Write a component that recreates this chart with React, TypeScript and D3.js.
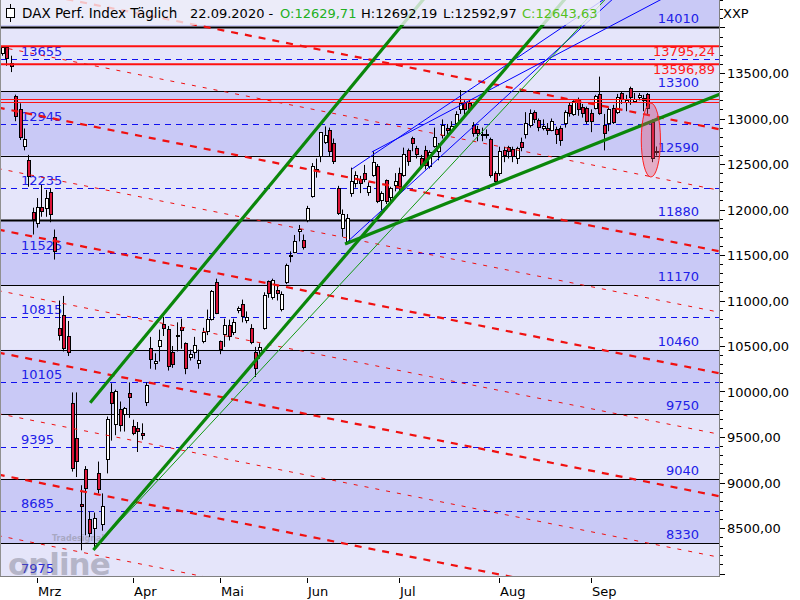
import React from "react";
import * as d3 from "d3";

// ---------- DATA ----------
const dates = [
  "2020-02-19","2020-02-20","2020-02-21","2020-02-24","2020-02-25","2020-02-26","2020-02-27","2020-02-28",
  "2020-03-02","2020-03-03","2020-03-04","2020-03-05","2020-03-06","2020-03-09","2020-03-10","2020-03-11","2020-03-12","2020-03-13",
  "2020-03-16","2020-03-17","2020-03-18","2020-03-19","2020-03-20","2020-03-23","2020-03-24","2020-03-25","2020-03-26","2020-03-27","2020-03-30","2020-03-31",
  "2020-04-01","2020-04-02","2020-04-03","2020-04-06","2020-04-07","2020-04-08","2020-04-09","2020-04-14","2020-04-15","2020-04-16","2020-04-17",
  "2020-04-20","2020-04-21","2020-04-22","2020-04-23","2020-04-24","2020-04-27","2020-04-28","2020-04-29","2020-04-30",
  "2020-05-04","2020-05-05","2020-05-06","2020-05-07","2020-05-08","2020-05-11","2020-05-12","2020-05-13","2020-05-14","2020-05-15",
  "2020-05-18","2020-05-19","2020-05-20","2020-05-21","2020-05-22","2020-05-25","2020-05-26","2020-05-27","2020-05-28","2020-05-29",
  "2020-06-02","2020-06-03","2020-06-04","2020-06-05","2020-06-08","2020-06-09","2020-06-10","2020-06-11","2020-06-12",
  "2020-06-15","2020-06-16","2020-06-17","2020-06-18","2020-06-19","2020-06-22","2020-06-23","2020-06-24","2020-06-25","2020-06-26","2020-06-29","2020-06-30",
  "2020-07-01","2020-07-02","2020-07-03","2020-07-06","2020-07-07","2020-07-08","2020-07-09","2020-07-10","2020-07-13","2020-07-14","2020-07-15","2020-07-16","2020-07-17",
  "2020-07-20","2020-07-21","2020-07-22","2020-07-23","2020-07-24","2020-07-27","2020-07-28","2020-07-29","2020-07-30","2020-07-31",
  "2020-08-03","2020-08-04","2020-08-05","2020-08-06","2020-08-07","2020-08-10","2020-08-11","2020-08-12","2020-08-13","2020-08-14",
  "2020-08-17","2020-08-18","2020-08-19","2020-08-20","2020-08-21","2020-08-24","2020-08-25","2020-08-26","2020-08-27","2020-08-28","2020-08-31",
  "2020-09-01","2020-09-02","2020-09-03","2020-09-04","2020-09-07","2020-09-08","2020-09-09","2020-09-10","2020-09-11",
  "2020-09-14","2020-09-15","2020-09-16","2020-09-17","2020-09-18","2020-09-21","2020-09-22"
];
const opens = [
  13720,13785,13610,13250,13100,12700,12545,11970,
  11860,12030,12020,12190,11700,10700,10840,10610,9870,9490,
  8760,9150,8600,8500,9100,8540,9260,9990,9640,9810,9745,9980,
  9620,9600,9545,9885,10480,10315,10500,10740,10690,10430,10620,
  10710,10530,10380,10440,10320,10555,10665,10800,11200,
  10555,10632,10730,10645,10896,10960,10790,10700,10434,10456,
  10690,11210,11040,11115,10910,11200,11490,11535,11755,11665,
  11885,12150,12445,12580,12740,12875,12730,12240,11800,
  11650,12180,12290,12330,12400,12195,12380,12480,12100,12320,12130,12270,
  12400,12380,12650,12786,12680,12570,12650,12480,12700,12640,12820,12900,12880,
  12950,13100,13180,13170,12930,12880,12820,12830,12780,12400,
  12400,12650,12690,12670,12560,12740,12820,12930,13070,12980,
  12900,12900,12880,12880,12900,12950,13150,13050,13200,13126,13110,
  13060,13115,13270,12930,12950,13120,13070,13280,13180,
  13340,13200,13230,13230,13270,12960,12629.71
];
const highs = [
  13795,13790,13690,13262,13167,12890,12600,12020,
  12126,12270,12215,12235,11780,11000,11050,10775,9990,9990,
  8970,9180,8680,8670,9230,8880,9725,10090,10020,9890,9830,10100,
  9690,9665,9650,10100,10600,10420,10680,10820,10720,10500,10760,
  10800,10540,10460,10600,10460,10700,10900,11115,11240,
  10560,10800,10790,10800,10935,11010,10880,10740,10490,10530,
  11090,11220,11240,11170,11100,11405,11540,11720,11830,11725,
  12040,12510,12560,12850,12913,12900,12780,12260,12000,
  11950,12460,12420,12370,12490,12300,12640,12500,12200,12330,12250,12400,
  12460,12680,12670,12800,12700,12600,12700,12650,12900,12730,12990,12940,12970,
  13080,13313,13200,13200,12960,12920,12900,12880,12790,12420,
  12690,12690,12700,12690,12690,12790,13070,13100,13090,13000,
  12990,12950,13000,12910,12920,13090,13180,13200,13230,13160,13130,
  13100,13260,13460,13050,13120,13150,13270,13300,13260,
  13350,13280,13280,13260,13280,12990,12692.19
];
const lows = [
  13690,13580,13510,12970,12764,12650,12250,11725,
  11800,11920,11920,11860,11450,10560,10440,10390,9120,9060,
  8255,8420,8400,8280,8880,8470,9100,9460,9520,9560,9560,9710,
  9520,9335,9470,9840,10250,10240,10330,10610,10230,10260,10440,
  10470,10190,10340,10360,10250,10530,10620,10780,10850,
  10410,10490,10560,10620,10860,10760,10750,10520,10160,10360,
  10680,11030,11010,11000,10880,11180,11420,11520,11650,11560,
  11860,12130,12350,12520,12720,12580,12500,11940,11700,
  11620,12140,12240,12180,12300,12150,12360,12070,11990,12060,12060,12200,
  12200,12360,12480,12640,12560,12450,12440,12450,12680,12540,12780,12810,12860,
  12900,13050,13030,13060,12800,12750,12750,12780,12350,12280,
  12370,12520,12560,12520,12500,12640,12780,12900,12950,12860,
  12870,12820,12860,12720,12700,12900,13020,13030,13030,13010,12940,
  12850,13100,13040,12650,12860,12940,13050,13160,13080,
  13150,13170,13200,13080,13050,12520,12592.97
];
const closes = [
  13789,13664,13579,13035,12790,12774,12367,11890,
  12031,11985,12127,11944,11541,10625,10475,10439,9161,9232,
  8742,8939,8441,8610,8929,8742,9701,9874,10000,9633,9816,9936,
  9544,9571,9525,10075,10356,10332,10565,10697,10280,10301,10626,
  10676,10250,10416,10514,10350,10659,10796,11107,10862,
  10467,10730,10606,10760,10918,10830,10820,10544,10258,10489,
  11058,11082,11223,11080,11074,11392,11504,11657,11781,11587,
  12021,12480,12431,12848,12820,12642,12530,11970,11949,
  11911,12315,12382,12281,12331,12263,12523,12093,12177,12089,12232,12311,
  12260,12608,12528,12734,12616,12494,12489,12633,12800,12697,12931,12874,12920,
  13046,13171,13104,13103,12838,12839,12835,12822,12380,12313,
  12647,12600,12650,12591,12674,12687,12946,13058,12993,12901,
  12920,12882,12977,12830,12765,13067,13066,13190,13096,13060,12962,
  12974,13243,13057,12843,13100,12968,13237,13209,13202,
  13236,13218,13255,13208,13116,12560,12643.63
];

const bandLevels = [14010, 13300, 12590, 11880, 11170, 10460, 9750, 9040, 8330];
const bandLabels = ["14010", "13300", "12590", "11880", "11170", "10460", "9750", "9040", "8330"];
const midLevels = [13655, 12945, 12235, 11525, 10815, 10105, 9395, 8685, 7975];
const midLabels = ["13655", "12945", "12235", "11525", "10815", "10105", "9395", "8685", "7975"];
const resistanceLevels = [13795.24, 13596.89];
const resistanceLabels = ["13795,24", "13596,89"];
const thinRedLevels = [13215, 13180];
const yTickValues = [8500, 9000, 9500, 10000, 10500, 11000, 11500, 12000, 12500, 13000, 13500];
const yTickLabels = ["8500,00", "9000,00", "9500,00", "10000,00", "10500,00", "11000,00", "11500,00", "12000,00", "12500,00", "13000,00", "13500,00"];
const monthNames = ["Jan", "Feb", "Mrz", "Apr", "Mai", "Jun", "Jul", "Aug", "Sep", "Okt", "Nov", "Dez"];

// red descending channel lines: price at bar index -1 and at bar index 166
const redThickStart = [14462, 13121, 11780, 10429, 9088, 7747];
const redThickEnd = [12868, 11527, 10186, 8835, 7494, 6153];
const redThinStart = [13791, 12451, 11110, 9758, 8417];
const redThinEnd = [12197, 10857, 9516, 8164, 6823];

// trend lines: [barIndex1, price1, barIndex2, price2]
const greenThickLines = [
  [20.2, 9877, 96.5, 14302],
  [20.94, 8258, 128.9, 14302],
  [78.65, 11621, 164.65, 13269],
];
const greenThinLines = [[21.3, 8280, 138.2, 14302]];
const blueLines = [
  [80.25, 12445, 137.8, 14302],
  [84.8, 12632, 150.9, 14302],
  [78.65, 11621, 134.8, 14082],
];
// highlight ellipse: [leftIndex, rightIndex, topPrice, bottomPrice]
const ellipseBox = [146.6, 151.0, 13170, 12357];

// ---------- LAYOUT ----------
const W = 800, H = 600;
const plotRight = 719;
const plotBottom = 576;
const FONT = "'DejaVu Sans', Verdana, sans-serif";

export default function App() {
  const x = d3.scaleLinear().domain([0, 150]).range([2.1, 656.1]);
  const y = d3.scaleLinear().domain([8500, 13500]).range([528, 73]);

  const bandFillDark = "#c9c9f6";
  const bandFillLight = "#e5e5fa";

  const bandEdges = [bandLevels[0] + 710, ...bandLevels, bandLevels[bandLevels.length - 1] - 710];
  const bands = d3.pairs(bandEdges).map(([a, b], i) => ({ top: a, bottom: b, dark: i % 2 === 0 }));

  const extend = (l: number[], iEnd: number) => {
    const [i1, p1, i2, p2] = l;
    return p1 + ((p2 - p1) / (i2 - i1)) * (iEnd - i1);
  };

  const monthTicks: { i: number; label: string }[] = [];
  dates.forEach((d, i) => {
    if (i === 0) return;
    const m = +d.slice(5, 7);
    const pm = +dates[i - 1].slice(5, 7);
    if (m !== pm) monthTicks.push({ i, label: monthNames[m - 1] });
  });

  const minorTicks = d3.range(7900, 14400, 100).filter((v) => y(v) >= 0 && y(v) <= plotBottom);

  const lineGen = d3.line<[number, number]>().x((d) => x(d[0])).y((d) => y(d[1]));

  return (
    <svg width={W} height={H} style={{ position: "absolute", left: 0, top: 0, display: "block", background: "#fff" }}
      fontFamily={FONT}>
      <defs>
        <clipPath id="plotClip">
          <rect x={0} y={0} width={plotRight} height={plotBottom} />
        </clipPath>
      </defs>

      <g clipPath="url(#plotClip)">
        {bands.map((b, i) => (
          <rect key={"b" + i} x={0} width={plotRight} y={y(b.top)} height={y(b.bottom) - y(b.top)}
            fill={b.dark ? bandFillDark : bandFillLight} />
        ))}
        {midLevels.map((v, i) => (
          <line key={"m" + i} x1={0} x2={plotRight} y1={Math.round(y(v)) + 0.5} y2={Math.round(y(v)) + 0.5}
            stroke="#1010ee" strokeWidth={1} strokeDasharray="6,5" />
        ))}
        {bandLevels.map((v, i) => (
          <line key={"bl" + i} x1={0} x2={plotRight} y1={Math.round(y(v)) + 0.5} y2={Math.round(y(v)) + 0.5}
            stroke="#000" strokeWidth={v === 11880 || v === 14010 ? 2 : 1} />
        ))}
        {midLevels.map((v, i) => (
          <text key={"ml" + i} x={21} y={y(v) - 3} fontSize={13} fill="#2020e8">{midLabels[i]}</text>
        ))}
        {bandLevels.map((v, i) => (
          <text key={"bll" + i} x={699} y={y(v) - 4} fontSize={13} fill="#2020e8" textAnchor="end">{bandLabels[i]}</text>
        ))}

        {/* watermark */}
        <g opacity={0.4}>
          <text x={52} y={541} fontSize={8} fontWeight="bold" fill="#777">Tradesignal</text>
          <text x={8} y={575} fontSize={31} fontWeight="bold" fill="#6e6e7e" letterSpacing={-1}>online</text>
        </g>

        {dates.map((d, i) => {
          const cx = Math.round(x(i)) + 0.5;
          const o = opens[i], c = closes[i];
          const up = c >= o;
          const yt = y(Math.max(o, c));
          const yb = y(Math.min(o, c));
          const top = Math.round(yt) + 0.5;
          const hgt = Math.max(1, Math.round(yb - yt));
          return (
            <g key={"c" + i}>
              <line x1={cx} x2={cx} y1={y(highs[i])} y2={y(lows[i])} stroke="#000" strokeWidth={1} />
              <rect x={cx - 1.5} y={top} width={3} height={hgt} fill={up ? "#ffffff" : "#dc1438"} stroke="#000"
                strokeWidth={1} shapeRendering="crispEdges" />
            </g>
          );
        })}

        {resistanceLevels.map((v, i) => (
          <line key={"r" + i} x1={0} x2={plotRight} y1={y(v)} y2={y(v)} stroke="#ff1010" strokeWidth={2} />
        ))}
        {thinRedLevels.map((v, i) => (
          <line key={"rt" + i} x1={0} x2={plotRight} y1={Math.round(y(v)) + 0.5} y2={Math.round(y(v)) + 0.5}
            stroke="#ff1010" strokeWidth={1} />
        ))}
        {resistanceLevels.map((v, i) => (
          <text key={"rl" + i} x={715} y={y(v) + 10} fontSize={13} fill="#ff1a1a" textAnchor="end">{resistanceLabels[i]}</text>
        ))}

        {redThickStart.map((p, i) => (
          <path key={"rd" + i} d={lineGen([[-1, p], [166, redThickEnd[i]]]) || ""} stroke="#f01010" strokeWidth={2.2}
            strokeDasharray="7,7" fill="none" />
        ))}
        {redThinStart.map((p, i) => (
          <path key={"rn" + i} d={lineGen([[-1, p], [166, redThinEnd[i]]]) || ""} stroke="#f01010" strokeWidth={1}
            strokeDasharray="4,7" fill="none" />
        ))}

        {blueLines.map((l, i) => (
          <path key={"bt" + i} d={lineGen([[l[0], l[1]], [175, extend(l, 175)]]) || ""} stroke="#0000ff"
            strokeWidth={1} fill="none" />
        ))}
        {greenThinLines.map((l, i) => (
          <path key={"gn" + i} d={lineGen([[l[0], l[1]], [175, extend(l, 175)]]) || ""} stroke="#139a13"
            strokeWidth={1} fill="none" />
        ))}
        {greenThickLines.map((l, i) => (
          <path key={"gt" + i} d={lineGen([[l[0], l[1]], [175, extend(l, 175)]]) || ""} stroke="#0a870a"
            strokeWidth={3.2} fill="none" />
        ))}

        <ellipse cx={(x(ellipseBox[0]) + x(ellipseBox[1])) / 2} cy={(y(ellipseBox[2]) + y(ellipseBox[3])) / 2}
          rx={(x(ellipseBox[1]) - x(ellipseBox[0])) / 2} ry={(y(ellipseBox[3]) - y(ellipseBox[2])) / 2}
          fill="rgba(225,70,100,0.35)" stroke="#ff2020" strokeWidth={1} />

        <rect x={0} y={0} width={600} height={25} fill="rgba(246,246,250,0.78)" />
      </g>

      {/* header text */}
      <g fontSize={13}>
        <line x1={10.5} x2={10.5} y1={4} y2={22} stroke="#000" />
        <rect x={6.5} y={8.5} width={8} height={9} fill="#fff" stroke="#000" />
        <text x={22} y={18} fill="#000" fontSize={13.5}>DAX Perf. Index Täglich</text>
        <text x={190} y={18} fill="#000">22.09.2020 -</text>
        <text x={280} y={18} fill="#22b022">O:12629,71</text>
        <text x={361} y={18} fill="#000">H:12692,19</text>
        <text x={443} y={18} fill="#000">L:12592,97</text>
        <text x={522} y={18} fill="#55c020">C:12643,63</text>
      </g>

      <line x1={0.5} x2={0.5} y1={0} y2={plotBottom} stroke="#909090" />
      <line x1={plotRight + 0.5} x2={plotRight + 0.5} y1={0} y2={plotBottom + 1} stroke="#808080" />
      <line x1={0} x2={plotRight + 1} y1={plotBottom + 0.5} y2={plotBottom + 0.5} stroke="#808080" />

      {minorTicks.map((v) => (
        <line key={"mt" + v} x1={plotRight + 1} x2={v % 500 === 0 ? plotRight + 6 : plotRight + 4}
          y1={Math.round(y(v)) + 0.5} y2={Math.round(y(v)) + 0.5} stroke="#000" />
      ))}
      {yTickValues.map((v, i) => (
        <text key={"yl" + i} x={727} y={y(v) + 5} fontSize={13} fill="#000">{yTickLabels[i]}</text>
      ))}
      <text x={723} y={18} fontSize={13} fill="#000">XXP</text>

      {monthTicks.map((t) => (
        <g key={"xt" + t.i}>
          <line x1={Math.round(x(t.i)) + 0.5} x2={Math.round(x(t.i)) + 0.5} y1={plotBottom + 2} y2={plotBottom + 7} stroke="#000" />
          <text x={Math.round(x(t.i)) + 1} y={596} fontSize={13} fill="#000">{t.label}</text>
        </g>
      ))}
    </svg>
  );
}
